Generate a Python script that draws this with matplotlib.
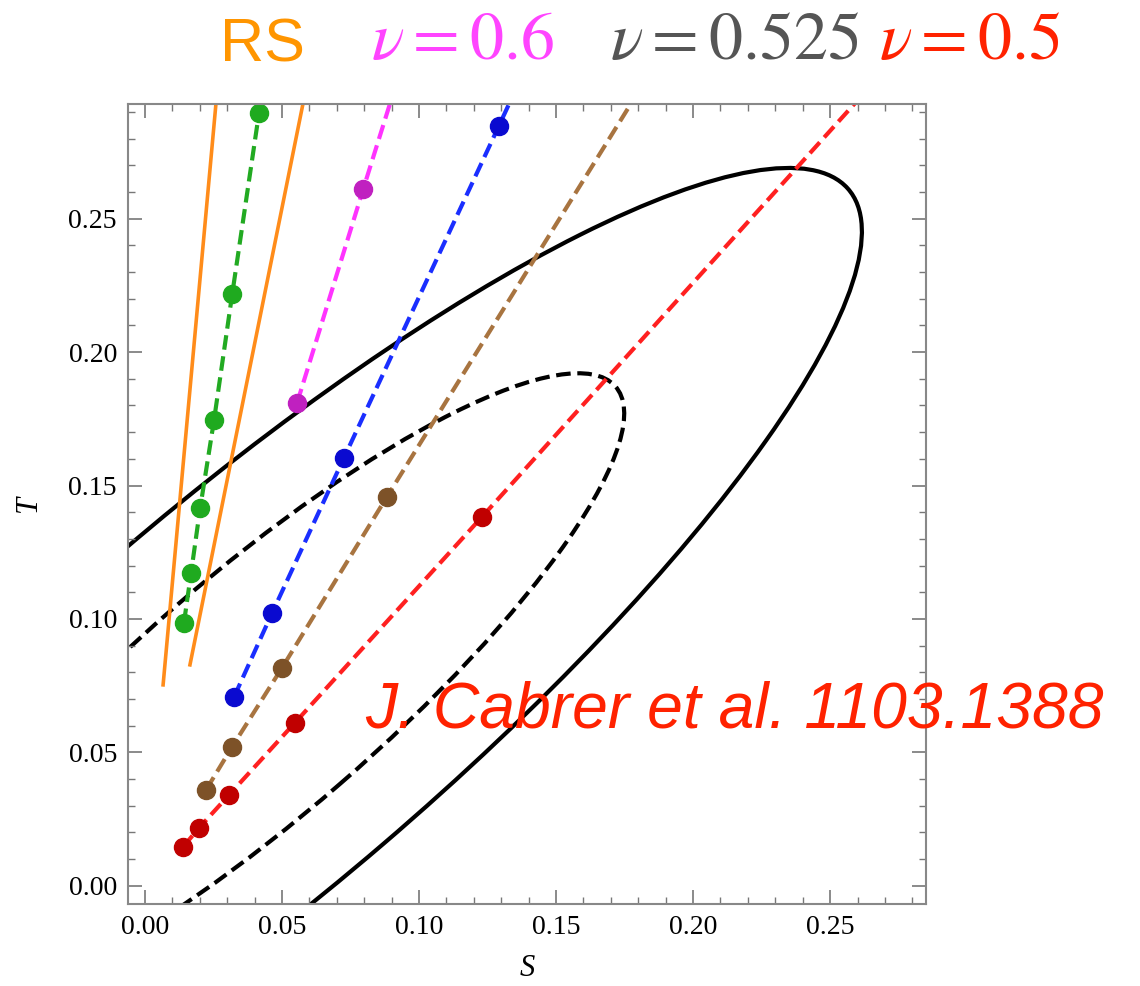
import numpy as np
import matplotlib
matplotlib.use("Agg")
import matplotlib.pyplot as plt
from matplotlib.patches import Ellipse
from matplotlib.ticker import MultipleLocator, FormatStrFormatter

plt.rcParams['mathtext.fontset'] = 'stix'

# the two black contours: centre (S, T), full width, full height, angle in degrees
solid_ell = (0.0388, 0.0701, 0.5794, 0.1453, 41.32)
dash_ell = (0.0413, 0.0716, 0.3484, 0.0896, 41.63)

# dotted scans
green_s = [0.0142, 0.0168, 0.0201, 0.0252, 0.0318, 0.0416]
green_t = [0.0985, 0.1172, 0.1414, 0.1746, 0.2216, 0.2896]
mag_s = [0.0555, 0.0796]
mag_t = [0.181, 0.261]
blue_s = [0.0325, 0.0464, 0.0726, 0.1292]
blue_t = [0.0708, 0.1023, 0.1604, 0.2849]
brown_s = [0.0223, 0.0318, 0.05, 0.0883]
brown_t = [0.036, 0.0521, 0.0817, 0.1458]
red_s = [0.0139, 0.0197, 0.0307, 0.0547, 0.123]
red_t = [0.0146, 0.0217, 0.0341, 0.0611, 0.1383]
# where the dashed lines leave the frame
mag_end = (0.0915, 0.30)
blue_end = (0.136, 0.30)
brown_end = (0.1815, 0.30)
red_end = (0.265, 0.30)

# RS lines
rs1_s = [0.0066, 0.0265]
rs1_t = [0.0753, 0.30]
rs2_s = [0.0164, 0.0590]
rs2_t = [0.0828, 0.30]

fig = plt.figure(figsize=(11.4, 9.86), dpi=100)
ax = fig.add_axes([0.1123, 0.0832, 0.700, 0.8114])

dash = (0, (3.5, 1.6))
for (x0, y0, w, h, ang), ls in [(solid_ell, '-'), (dash_ell, dash)]:
    ax.add_patch(Ellipse((x0, y0), w, h, angle=ang, fill=False, ec='black', lw=3, ls=ls))

ax.plot(rs1_s, rs1_t, color='#ff8c1a', lw=2.6)
ax.plot(rs2_s, rs2_t, color='#ff8c1a', lw=2.6)
ax.plot(green_s, green_t, color='#22aa22', lw=3, ls=dash)
ax.plot(mag_s + [mag_end[0]], mag_t + [mag_end[1]], color='#ff33ff', lw=3, ls=dash)
ax.plot(blue_s + [blue_end[0]], blue_t + [blue_end[1]], color='#1a2eff', lw=3, ls=dash)
ax.plot(brown_s + [brown_end[0]], brown_t + [brown_end[1]], color='#a87440', lw=3, ls=dash)
ax.plot(red_s + [red_end[0]], red_t + [red_end[1]], color='#ff2020', lw=3, ls=dash)
ax.plot(green_s, green_t, 'o', color='#1faa1f', ms=13, clip_on=False)
ax.plot(mag_s, mag_t, 'o', color='#c020c0', ms=13)
ax.plot(blue_s, blue_t, 'o', color='#0a0ad0', ms=13)
ax.plot(brown_s, brown_t, 'o', color='#7d5228', ms=13)
ax.plot(red_s, red_t, 'o', color='#c00000', ms=13)

ax.set_xlim(-0.0062, 0.285)
ax.set_ylim(-0.0068, 0.293)
ax.xaxis.set_major_locator(MultipleLocator(0.05))
ax.yaxis.set_major_locator(MultipleLocator(0.05))
ax.xaxis.set_minor_locator(MultipleLocator(0.01))
ax.yaxis.set_minor_locator(MultipleLocator(0.01))
ax.xaxis.set_major_formatter(FormatStrFormatter('%.2f'))
ax.yaxis.set_major_formatter(FormatStrFormatter('%.2f'))
ax.tick_params(which='both', direction='in', top=True, right=True, color='#777777')
ax.tick_params(which='major', length=10, width=1.2, labelsize=20, pad=8)
ax.tick_params(which='minor', length=5, width=1)
for sp in ax.spines.values():
    sp.set_color('#888888')
    sp.set_linewidth(1.5)
for lab in ax.get_xticklabels() + ax.get_yticklabels():
    lab.set_family('Liberation Serif')
ax.set_xlabel('S', family='Liberation Serif', style='italic', fontsize=22, labelpad=10)
ax.set_ylabel('T', family='Liberation Serif', style='italic', fontsize=22, labelpad=18)

fig.text(0.230, 0.938, 'RS', color='#ff9500', fontsize=44, family='Liberation Sans', ha='center', va='baseline')
fig.text(0.406, 0.940, r'$\nu = 0.6$', color='#ff44ff', fontsize=49, ha='center', va='baseline')
fig.text(0.644, 0.940, r'$\nu = 0.525$', color='#555555', fontsize=49, ha='center', va='baseline')
fig.text(0.850, 0.940, r'$\nu = 0.5$', color='#ff2200', fontsize=49, ha='center', va='baseline')
fig.text(0.320, 0.262, 'J. Cabrer et al. 1103.1388', color='#ff2200', fontsize=46.3,
         family='Liberation Sans', style='italic', ha='left', va='baseline')

fig.savefig('out.png', dpi=100)
